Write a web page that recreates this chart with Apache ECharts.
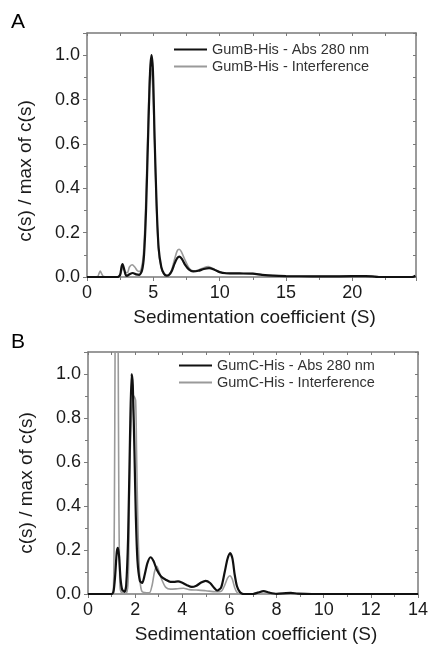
<!DOCTYPE html>
<html>
<head>
<meta charset="utf-8">
<script src="https://cdn.jsdelivr.net/npm/echarts@6/dist/echarts.min.js"></script>
<style>html,body{margin:0;padding:0;background:#fff;}#c{width:432px;height:649px;}</style>
</head>
<body>
<div id="c"></div>
<script>
// Panel A: GumB-His
const aAbsS = [0.0,2.3,2.5,2.6,2.68,2.78,2.9,3.0,3.2,3.45,3.7,3.95,4.15,4.3,4.45,4.6,4.75,4.86,4.97,5.1,5.25,5.4,5.6,5.8,6.0,6.2,6.4,6.6,6.8,6.97,7.15,7.4,7.7,8.0,8.4,8.8,9.2,9.6,10.0,10.5,11.5,12.5,13.2,14,15,17,19,21,21.5,22,24.5,24.75];
const aAbsV = [0,0,0.01,0.045,0.058,0.04,0.012,0.005,0.012,0.018,0.012,0.01,0.03,0.1,0.3,0.62,0.92,1.0,0.93,0.62,0.32,0.13,0.045,0.015,0.006,0.01,0.028,0.06,0.085,0.092,0.082,0.055,0.033,0.025,0.028,0.036,0.04,0.033,0.022,0.017,0.016,0.015,0.01,0.006,0.004,0.003,0.003,0.004,0.003,0,0,0.006];
const aIntS = [0,0.8,0.9,1.0,1.1,1.25,2.3,2.5,2.65,2.75,2.9,3.05,3.2,3.4,3.6,3.8,3.95,4.1,4.25,4.4,4.55,4.7,4.82,4.95,5.1,5.25,5.4,5.6,5.8,6.0,6.2,6.4,6.6,6.8,6.95,7.1,7.4,7.7,8.0,8.4,8.8,9.15,9.5,10,10.5,12.5,13.2,14,15,18,21,22];
const aIntV = [0,0.002,0.015,0.027,0.015,0.002,0,0.01,0.035,0.04,0.02,0.02,0.045,0.055,0.045,0.028,0.025,0.04,0.1,0.28,0.58,0.88,0.94,0.86,0.6,0.3,0.12,0.04,0.012,0.006,0.012,0.035,0.08,0.118,0.125,0.115,0.075,0.04,0.028,0.032,0.042,0.047,0.038,0.022,0.016,0.015,0.01,0.006,0.004,0.003,0.003,0];

// Panel B: GumC-His
const bAbsS = [0,1.0,1.08,1.15,1.22,1.27,1.32,1.38,1.45,1.55,1.62,1.7,1.78,1.85,1.9,1.97,2.03,2.1,2.2,2.3,2.4,2.52,2.65,2.78,2.92,3.1,3.3,3.5,3.65,3.82,3.98,4.2,4.4,4.6,4.8,4.99,5.18,5.35,5.48,5.65,5.8,5.92,6.03,6.13,6.22,6.32,6.45,6.6,7.0,7.2,7.45,7.7,8.0,8.4,8.6,8.9,9.5,14];
const bAbsV = [0,0,0.01,0.08,0.19,0.21,0.17,0.07,0.02,0.01,0.04,0.25,0.7,1.0,0.95,0.65,0.35,0.15,0.06,0.05,0.085,0.14,0.167,0.15,0.11,0.08,0.065,0.055,0.055,0.057,0.052,0.04,0.032,0.038,0.052,0.06,0.05,0.028,0.016,0.03,0.1,0.16,0.186,0.16,0.09,0.035,0.008,0,0,0.006,0.013,0.006,0.001,0.004,0.005,0.002,0,0];
const bIntS = [0,1.0,1.08,1.12,1.15,1.21,1.28,1.31,1.35,1.4,1.6,1.7,1.74,1.78,1.85,1.95,2.02,2.06,2.12,2.2,2.3,2.6,2.72,2.82,2.92,3.02,3.15,3.3,3.5,3.8,4.05,4.3,4.6,5.0,5.4,5.65,5.8,5.92,6.02,6.12,6.22,6.32,6.45,14];
const bIntV = [0,0,0.02,0.4,1.15,3.0,1.15,0.4,0.05,0.01,0,0.05,0.3,0.6,0.82,0.9,0.88,0.65,0.3,0.07,0.01,0.005,0.04,0.1,0.126,0.1,0.06,0.03,0.022,0.024,0.026,0.02,0.018,0.015,0.01,0.012,0.04,0.072,0.083,0.068,0.03,0.008,0,0];

const yTicks = ['0.0','0.2','0.4','0.6','0.8','1.0'];
const yTitle = 'c(s) / max of c(s)';
const xTitle = 'Sedimentation coefficient (S)';
const legA = ['GumB-His - Abs 280 nm','GumB-His - Interference'];
const legB = ['GumC-His - Abs 280 nm','GumC-His - Interference'];

const zip = (s, v) => s.map((x, i) => [x, v[i]]);
const FONT = 'Liberation Sans, Arial, sans-serif';
const FRAME = '#7a7a7a';
const TXT = '#1a1a1a';
const ABS = '#111';
const INT = '#9a9a9a';

function xAxes(gi, max, interval) {
  return [
    {
      gridIndex: gi, type: 'value', min: 0, max: max, interval: interval, position: 'bottom',
      axisLine: { onZero: false, lineStyle: { color: FRAME, width: 1.5 } },
      axisTick: { inside: false, length: 4, lineStyle: { color: FRAME } },
      minorTick: { show: true, splitNumber: 2, length: 3, lineStyle: { color: FRAME } },
      axisLabel: { color: TXT, fontSize: 18, fontFamily: FONT, margin: 7, showMaxLabel: max % interval === 0 },
      splitLine: { show: false },
      name: xTitle, nameLocation: 'middle', nameGap: 31,
      nameTextStyle: { color: TXT, fontSize: 19, fontFamily: FONT, verticalAlign: 'top', padding: [0, 0, 0, 6] }
    },
    {
      gridIndex: gi, type: 'value', min: 0, max: max, interval: interval, position: 'top',
      axisLine: { onZero: false, lineStyle: { color: FRAME, width: 1.5 } },
      axisTick: { inside: true, length: 3, lineStyle: { color: FRAME } },
      minorTick: { show: true, splitNumber: 2, length: 3, lineStyle: { color: FRAME } },
      axisLabel: { show: false }, splitLine: { show: false }
    }
  ];
}
function yAxes(gi, shift) {
  return [
    {
      gridIndex: gi, type: 'value', min: 0, max: 1.1, interval: 0.2, position: 'left',
      axisLine: { show: true, onZero: false, lineStyle: { color: FRAME, width: 1.5 } },
      axisTick: { show: true, inside: false, length: 4, lineStyle: { color: FRAME } },
      minorTick: { show: true, splitNumber: 2, length: 3, lineStyle: { color: FRAME } },
      axisLabel: { color: TXT, fontSize: 18, fontFamily: FONT, margin: 7, showMaxLabel: false,
        formatter: v => yTicks.indexOf(v.toFixed(1)) >= 0 ? v.toFixed(1) : '' },
      splitLine: { show: false },
      name: yTitle, nameLocation: 'middle', nameGap: 52, nameRotate: 90,
      nameTextStyle: { color: TXT, fontSize: 19, fontFamily: FONT, padding: [0, shift, 0, 0] }
    },
    {
      gridIndex: gi, type: 'value', min: 0, max: 1.1, interval: 0.2, position: 'right',
      axisLine: { show: true, onZero: false, lineStyle: { color: FRAME, width: 1.5 } },
      axisTick: { show: true, inside: true, length: 3, lineStyle: { color: FRAME } },
      minorTick: { show: true, splitNumber: 2, length: 3, lineStyle: { color: FRAME } },
      axisLabel: { show: false }, splitLine: { show: false }
    }
  ];
}
function line(name, data, xi, yi, color, w, z) {
  return { name: name, type: 'line', xAxisIndex: xi, yAxisIndex: yi, data: data,
    symbol: 'none', showSymbol: false, smooth: 0.25, clip: true, z: z,
    lineStyle: { color: color, width: w }, itemStyle: { color: color }, animation: false };
}
function legend(names, left, top) {
  return {
    data: [
      { name: names[0], icon: 'rect', itemStyle: { color: ABS } },
      { name: names[1], icon: 'rect', itemStyle: { color: INT } }
    ],
    orient: 'vertical', left: left, top: top, itemWidth: 33, itemHeight: 2.2, itemGap: 0, padding: 0,
    textStyle: { color: '#333', fontSize: 14.5, fontFamily: FONT, lineHeight: 17 }
  };
}

const chart = echarts.init(document.getElementById('c'), null, { renderer: 'canvas' });
chart.setOption({
  backgroundColor: '#fff',
  animation: false,
  title: [
    { text: 'A', left: 11, top: 12, padding: 0, textStyle: { fontSize: 21, fontWeight: 'normal', color: '#000', fontFamily: FONT } },
    { text: 'B', left: 11, top: 332, padding: 0, textStyle: { fontSize: 21, fontWeight: 'normal', color: '#000', fontFamily: FONT } }
  ],
  grid: [
    { left: 87, right: 16, top: 33, height: 244 },
    { left: 88, right: 14, top: 352, height: 242 }
  ],
  xAxis: [...xAxes(0, 24.8, 5), ...xAxes(1, 14, 2)],
  yAxis: [...yAxes(0, 32), ...yAxes(1, 20)],
  legend: [legend(legA, 174, 41), legend(legB, 179, 357)],
  series: [
    line(legA[1], zip(aIntS, aIntV), 0, 0, INT, 1.6, 2),
    line(legA[0], zip(aAbsS, aAbsV), 0, 0, ABS, 2.2, 3),
    line(legB[1], zip(bIntS, bIntV), 2, 2, INT, 1.6, 2),
    line(legB[0], zip(bAbsS, bAbsV), 2, 2, ABS, 2.2, 3)
  ]
});
</script>
</body>
</html>
